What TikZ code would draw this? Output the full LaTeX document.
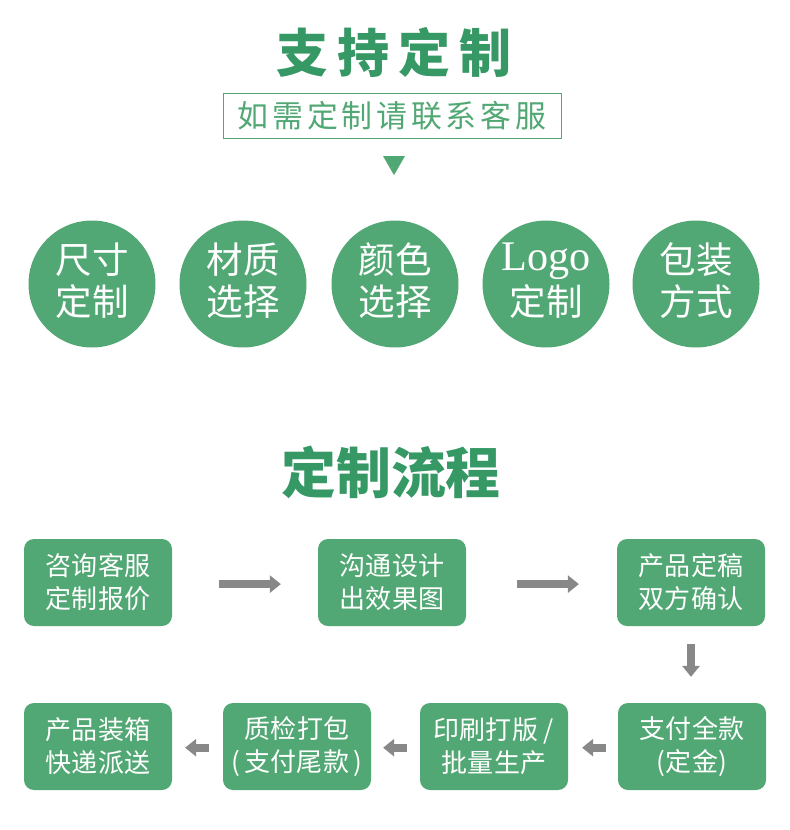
\documentclass[tikz,border=0pt]{standalone}
\usepackage{fontspec}
\setmainfont{Noto Sans CJK SC}
\newfontfamily\logoFont{Liberation Serif}
\usetikzlibrary{shapes.geometric, arrows.meta}
\definecolor{titleGreen}{HTML}{369864}
\definecolor{boxGreen}{HTML}{52A874}
\definecolor{arrowGray}{HTML}{888888}
\tikzstyle{heading} = [text=titleGreen, font=\fontsize{72}{80}\selectfont\bfseries, inner sep=0pt]
\tikzstyle{badge} = [circle, fill=boxGreen, text=white, minimum size=6.35cm, inner sep=0pt, align=center, text depth=0.46cm, font=\fontsize{52}{60}\selectfont]
\tikzstyle{flowBox} = [rectangle, rounded corners=0.5cm, fill=boxGreen, text=white, minimum width=7.4cm, minimum height=4.35cm, inner sep=0pt, align=center, font=\fontsize{37}{47}\selectfont]
\tikzstyle{flowArrow} = [arrowGray, line width=0.42cm, -{Triangle[length=0.55cm, width=0.85cm]}]
\begin{document}
\begin{tikzpicture}
            \useasboundingbox (0,0) rectangle (39.5,-41.5);

            \node[heading, font=\fontsize{74}{80}\selectfont\bfseries\addfontfeature{LetterSpace=17}] (supportTitle) at (19.7,-2.6) {支持定制};
            \node[rectangle, draw=boxGreen, line width=0.05cm, minimum width=16.9cm, minimum height=2.25cm, inner sep=0pt, text=boxGreen, font=\fontsize{44}{50}\selectfont\addfontfeature{LetterSpace=12}, below of=supportTitle, node distance=3.2cm, xshift=-0.1cm] (contactBox) {如需定制请联系客服};
            \node[regular polygon, regular polygon sides=3, shape border rotate=180, fill=boxGreen, minimum size=1.27cm, inner sep=0pt, below of=contactBox, node distance=2.32cm, xshift=0.1cm] (marker) {};

            \begin{scope}[node distance=7.55cm]
            \node[badge] (sizeBadge) at (4.6,-14.2) {尺寸\\定制};
            \node[badge, right of=sizeBadge] (materialBadge) {材质\\选择};
            \node[badge, right of=materialBadge, xshift=0.05cm] (colorBadge) {颜色\\选择};
            \node[badge, right of=colorBadge] (logoBadge) {{\logoFont\fontsize{60}{60}\selectfont Logo}\\[4pt]定制};
            \node[badge, right of=logoBadge, xshift=-0.05cm] (packBadge) {包装\\方式};
            \end{scope}

            \node[heading, font=\fontsize{78}{85}\selectfont\bfseries] (processTitle) at (19.55,-23.6) {定制流程};

            \node[flowBox] (consult) at (4.9,-29.125) {咨询客服\\定制报价};
            \node[flowBox, right of=consult, node distance=14.7cm] (design) {沟通设计\\出效果图};
            \node[flowBox, right of=design, node distance=14.95cm] (confirm) {产品定稿\\双方确认};
            \node[flowBox, below of=confirm, node distance=8.2cm, xshift=0.05cm] (payment) {支付全款\\(\kern1pt 定金\kern1pt)};
            \node[flowBox, left of=payment, node distance=9.9cm] (printing) {印刷打版 /\\批量生产};
            \node[flowBox, left of=printing, node distance=9.85cm] (inspect) {质检打包\\(\kern7pt 支付尾款\kern7pt)};
            \node[flowBox, left of=inspect, node distance=9.95cm] (delivery) {产品装箱\\快递派送};

            \draw[flowArrow, shorten <=2.35cm, shorten >=1.85cm] ([yshift=-0.08cm]consult.east) -- ([yshift=-0.08cm]design.west);
            \draw[flowArrow, shorten <=2.55cm, shorten >=1.9cm] ([yshift=-0.08cm]design.east) -- ([yshift=-0.08cm]confirm.west);
            \draw[flowArrow, shorten <=0.9cm, shorten >=1.3cm] (confirm) -- (confirm |- payment.north);
            \draw[flowArrow, shorten <=0.6cm, shorten >=0.7cm] ([yshift=-0.06cm]payment.west) -- ([yshift=-0.06cm]printing.east);
            \draw[flowArrow, shorten <=0.65cm, shorten >=0.6cm] ([yshift=-0.06cm]printing.west) -- ([yshift=-0.06cm]inspect.east);
            \draw[flowArrow, shorten <=0.7cm, shorten >=0.65cm] ([yshift=-0.06cm]inspect.west) -- ([yshift=-0.06cm]delivery.east);

        \end{tikzpicture}
\end{document}
